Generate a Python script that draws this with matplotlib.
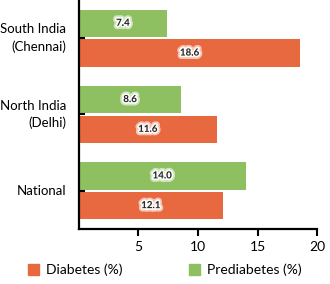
import matplotlib.pyplot as plt
import matplotlib.patheffects as pe
from matplotlib.patches import Patch
import numpy as np

plt.rcParams['font.family'] = ['Lato', 'DejaVu Sans']

regions = ['National', 'North India\n(Delhi)', 'South India\n(Chennai)']
diabetes = [12.1, 11.6, 18.6]
prediabetes = [14.0, 8.6, 7.4]

orange = '#E8683F'
green = '#8EBF60'

fig = plt.figure(figsize=(3.3, 2.84), dpi=100)
ax = fig.add_axes([0.239, 0.194, 0.722, 0.806])

y = np.arange(len(regions))
h = 0.36
ax.barh(y - 0.195, diabetes, height=h, color=orange)
ax.barh(y + 0.195, prediabetes, height=h, color=green)

glow = [pe.withStroke(linewidth=5, foreground='white', alpha=0.6),
        pe.withStroke(linewidth=2.5, foreground='white', alpha=0.9)]
for i in range(len(regions)):
    ax.text(diabetes[i] / 2, y[i] - 0.195, f'{diabetes[i]:.1f}', ha='center', va='center',
            fontsize=7, fontweight='bold', color='#222222', path_effects=glow)
    ax.text(prediabetes[i] / 2, y[i] + 0.195, f'{prediabetes[i]:.1f}', ha='center', va='center',
            fontsize=7, fontweight='bold', color='#222222', path_effects=glow)

ax.set_xlim(0, 20)
ax.set_ylim(-0.5, 2.5)
ax.set_xticks([5, 10, 15, 20])
ax.set_yticks(y)
ax.set_yticklabels([])
# category labels, each line right aligned
for i, name in enumerate(regions):
    lines = name.split('\n')
    n = len(lines)
    for k, line in enumerate(lines):
        off = ((n - 1) / 2 - k) * 12.5
        ax.annotate(line, xy=(0, y[i]), xycoords=ax.get_yaxis_transform(),
                    xytext=(-9, off), textcoords='offset points',
                    ha='right', va='center', fontsize=9.5)
ax.tick_params(axis='x', labelsize=10, length=5, width=1.5, direction='out')
ax.tick_params(axis='y', length=4, width=1.5, direction='in')
for s in ['top', 'right']:
    ax.spines[s].set_visible(False)
for s in ['left', 'bottom']:
    ax.spines[s].set_linewidth(1.6)

handles = [Patch(color=orange, label='Diabetes (%)'), Patch(color=green, label='Prediabetes (%)')]
fig.legend(handles=handles, loc='center', bbox_to_anchor=(0.5, 0.05), ncol=2, frameon=False,
           fontsize=10, handlelength=0.8, handleheight=0.8, columnspacing=4.8, handletextpad=0.5)

fig.savefig('out.png', dpi=100)
